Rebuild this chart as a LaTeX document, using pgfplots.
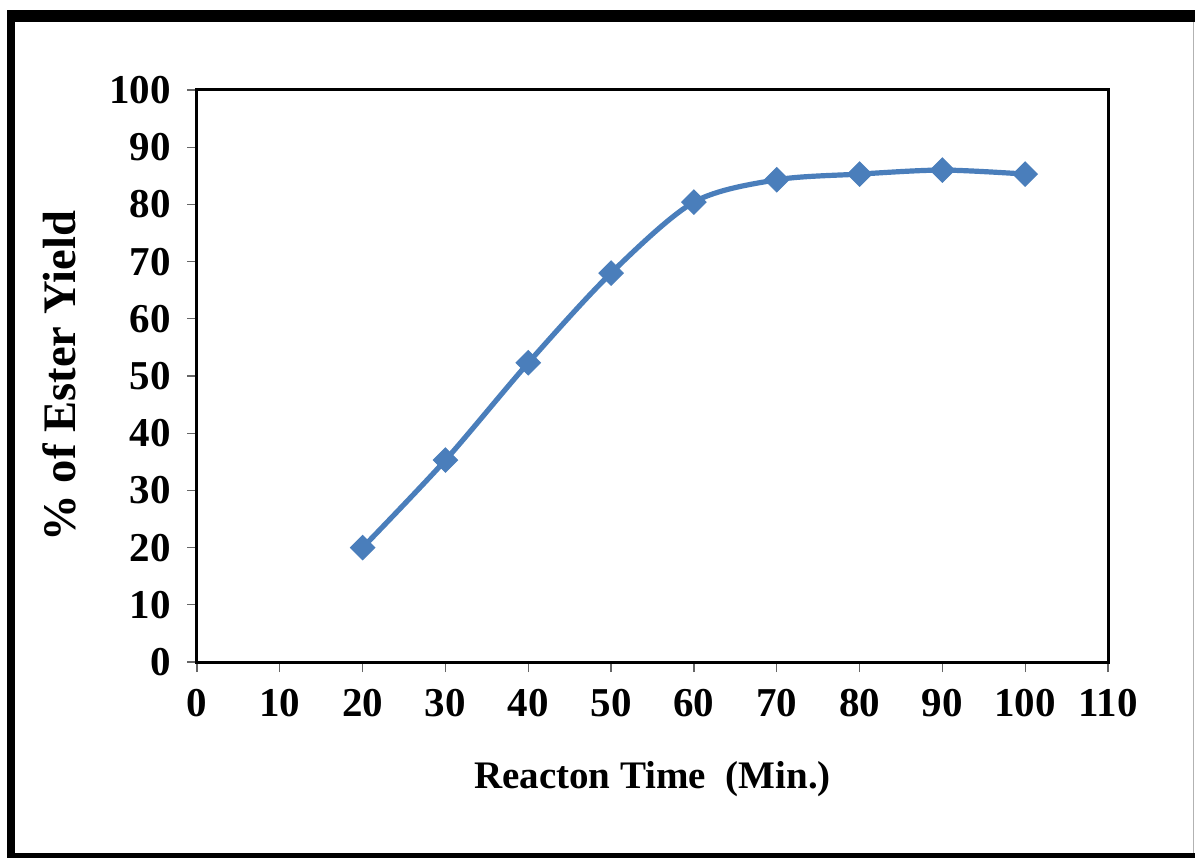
\documentclass[border=0pt]{standalone}
\usepackage{fontspec}
\setmainfont{Liberation Serif}
\usepackage{pgfplots}
\pgfplotsset{compat=1.18}
\definecolor{xlblue}{HTML}{4A7EBB}
\begin{document}
\begin{tikzpicture}
  % picture area and outer frame (1px of the reference = 0.5pt)
  \path[use as bounding box,fill=white] (0pt,0pt) rectangle (597.5pt,429pt);
  \fill[black] (3.5pt,0pt) rectangle (7.5pt,424pt);
  \fill[black] (3.5pt,418pt) rectangle (597.5pt,424pt);
  \fill[black] (3.5pt,0pt) rectangle (597.5pt,2.5pt);
  \draw[gray!60,line width=0.5pt] (596.5pt,2.5pt) -- (596.5pt,418pt);
  \begin{axis}[
    at={(98.5pt,98pt)}, anchor=south west,
    scale only axis,
    width=455.5pt, height=286pt,
    xmin=0, xmax=110, ymin=0, ymax=100,
    xtick={0,10,...,110},
    ytick={0,10,...,100},
    xtick pos=left, ytick pos=left,
    tick align=outside,
    major tick length=5pt,
    tick style={gray!80!black,line width=0.6pt},
    axis line style={black,line width=1.5pt},
    /pgf/number format/assume math mode=true,
    ticklabel style={font=\fontsize{20.5}{23}\selectfont\bfseries},
    yticklabel style={xshift=-4.5pt},
    xticklabel style={yshift=-5pt},
    xlabel={Reacton Time~~(Min.)},
    ylabel={\% of Ester Yield},
    xlabel style={font=\fontsize{19.5}{22}\selectfont\bfseries,
      at={(axis description cs:0.5,-0.2203)}, anchor=base},
    ylabel style={font=\fontsize{23.3}{26}\selectfont\bfseries,
      at={(axis description cs:-0.1515,0.5)}, anchor=center},
  ]
    \addplot[xlblue, line width=2.6pt, smooth, tension=0.5,
      mark=square*, mark size=4.3pt,
      mark options={rotate=45, fill=xlblue, draw=xlblue, line width=0.5pt}]
      coordinates {
        (20,20) (30,35.3) (40,52.3) (50,68) (60,80.4)
        (70,84.3) (80,85.3) (90,86) (100,85.3)
      };
  \end{axis}
\end{tikzpicture}
\end{document}
